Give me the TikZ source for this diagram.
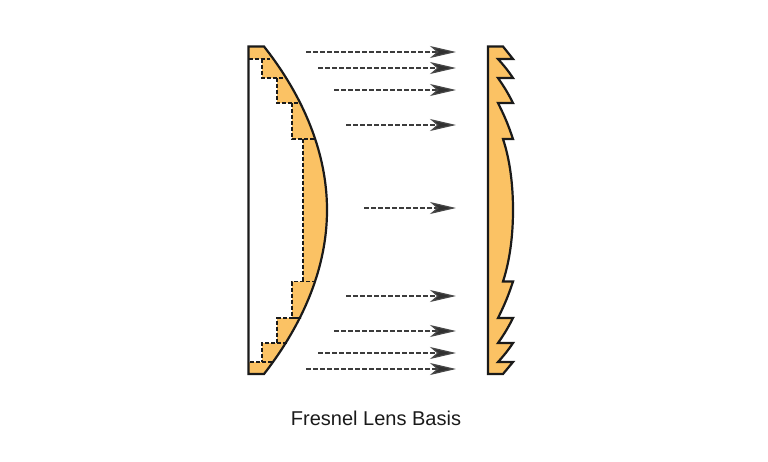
\documentclass[tikz,border=0pt]{standalone}
\usepackage{fontspec}
\setmainfont{Liberation Sans}
\usetikzlibrary{arrows.meta}
\definecolor{lensfill}{HTML}{FBC264}
\definecolor{inkdark}{HTML}{1A1A1A}
\tikzset{
  lensline/.style={draw=inkdark,line width=2.2pt,line join=miter,line cap=butt},
  stepline/.style={draw=inkdark,line width=1.2pt,dash pattern=on 4pt off 2pt},
  rayline/.style={draw=inkdark!85,line width=1.2pt,dash pattern=on 5pt off 2pt,
    -{Stealth[length=26pt,width=12pt,inset=7pt,fill=inkdark!90,color=inkdark!80]}},
}
\begin{document}
\begin{tikzpicture}[x=1pt,y=-1pt]
\useasboundingbox (0,0) rectangle (768,461);
% left lens: stepped body
\fill[lensfill] (248.5,46.5) -- (264,46.5)
  .. controls (292,82) and (327,140) .. (327,210)
  .. controls (327,280) and (292,338) .. (264,374)
  -- (248.5,374) -- (248.5,362) -- (262,362) -- (262,343) -- (277,343) -- (277,318)
  -- (292,318) -- (292,281.5) -- (303,281.5) -- (303,139) -- (292,139) -- (292,103)
  -- (277,103) -- (277,78) -- (262,78) -- (262,59) -- (248.5,59) -- cycle;
\draw[stepline] (248.5,59) -- (270,59) (262,59) -- (262,78) -- (285,78)
  (277,78) -- (277,103) -- (301,103) (292,103) -- (292,139) -- (315,139)
  (303,139) -- (303,281.5) (316,281.5) -- (292,281.5) -- (292,318) -- (301,318) -- (277,318)
  -- (277,343) (287,343) -- (262,343) -- (262,362) (272,362) -- (248.5,362);
\draw[lensline] (248.5,374) -- (248.5,46.5) -- (264,46.5)
  .. controls (292,82) and (327,140) .. (327,210)
  .. controls (327,280) and (292,338) .. (264,374) -- cycle;
% right lens: Fresnel profile
\draw[lensline,fill=lensfill] (488,46.5) -- (503,46.5) -- (513,59) -- (498,59)
  to[bend left=4] (513,78) -- (498,78)
  to[bend left=4] (513,103) -- (498,103)
  to[bend left=4] (513,139) -- (503,139)
  .. controls (510,160) and (513,185) .. (513,210)
  .. controls (513,235) and (510,260) .. (503,281.5)
  -- (513,281.5) to[bend left=4] (498,318) -- (513,318) to[bend left=4] (498,343)
  -- (513,343) to[bend left=4] (498,362) -- (513,362) -- (503,374) -- (488,374) -- cycle;
% rays
\foreach \ytip/\xtail in {52/306,68/318,90/334,125/346,208/364,296/346,331/334,353/318,369/306}{
  \coordinate (t\ytip) at (\xtail,\ytip);
  \coordinate (h\ytip) at (456,\ytip);
  \draw[rayline] (t\ytip) -- (h\ytip);
}
\node[font=\fontsize{20pt}{24pt}\selectfont,text=inkdark,inner sep=0pt] (title) at (376,418) {Fresnel Lens Basis};
\end{tikzpicture}
\end{document}
